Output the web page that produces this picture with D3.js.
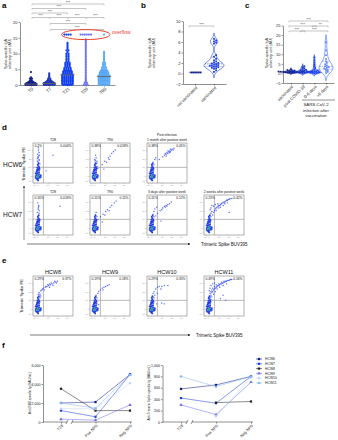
<!DOCTYPE html>
<html>
<head>
<meta charset="utf-8">
<title>Spike-specific IgA and memory B cells</title>
<script src="https://d3js.org/d3.v7.min.js"></script>
<style>
  body { margin: 0; background: #ffffff; }
  svg { font-family: "Liberation Sans", Arial, sans-serif; }
</style>
</head>
<body>
<div id="chart"></div>
<script>
// ---------- panel a : IgA over time, [value, number of dots at that value] ----------
var aCats = ["T0", "T7", "T21", "T28", "T90"];
var aColors = ["#13208a", "#1f35b5", "#0f3df2", "#6b72f2", "#58a8f4"];
var t0Counts = [[0,6],[0.2,6],[0.4,6],[0.6,5],[0.8,4],[1.0,3],[1.3,2],[1.6,1],[2.0,2],[2.4,1],[4.1,1]];
var t7Counts = [[0,6],[0.2,6],[0.4,6],[0.6,6],[0.8,5],[1.0,4],[1.3,3],[1.6,2],[2.0,2],[2.4,1],[2.8,1],[3.2,1],[3.7,1]];
var t21Counts = [[0,5],[0.3,6],[0.6,6],[1.0,6],[1.3,6],[1.6,6],[2.0,6],[2.3,6],[2.6,6],[3.0,6],[3.3,6],[3.6,5],[4.0,5],[4.3,5],[4.6,4],[5.0,4],[5.4,4],[5.8,3],[6.2,3],[6.6,3],[7.0,3],[7.5,2],[8.0,2],[8.5,2],[9.0,2],[9.5,2],[10.0,2],[10.5,1],[11.0,2],[11.5,1],[12.0,1],[12.5,1],[13.0,1],[13.4,1],[16,4]];
var t28Counts = [[0,3],[0.4,2],[0.8,2],[1.2,1],[1.6,1],[2,1],[2.5,1],[3,1],[3.5,1],[4,1],[4.5,1],[5,1],[5.5,1],[6,1],[6.5,1],[7,1],[7.5,1],[8,1],[8.5,1],[9,1],[9.5,1],[10,1],[10.5,1],[11,1],[11.5,1],[12,1],[12.5,1],[13,1],[13.5,1],[14,1],[14.5,1],[16,6]];
var t90Counts = [[0,5],[0.3,6],[0.6,6],[1.0,6],[1.3,6],[1.6,6],[2.0,6],[2.3,6],[2.6,6],[3.0,6],[3.3,5],[3.6,5],[4.0,5],[4.3,4],[4.6,4],[5.0,3],[5.5,3],[6.0,2],[6.5,2],[7.0,2],[7.5,1],[8.0,1],[8.5,1],[9.0,1],[9.5,1],[10.0,1],[10.5,1],[16,1]];
var aMedians = [0.3, 0.5, 3.2, null, 2.7];
var aTicks = [0, 5, 10, 15, 20];
var aBrackets = [["T0","T90",0],["T0","T28",1],["T0","T21",2],["T0","T7",3],["T7","T21",3],["T21","T28",3],["T28","T90",3],["T7","T28",4],["T7","T90",5]];

// ---------- panel b ----------
var bCats = ["not vaccinated", "vaccinated"];
var notVaccinated = [0.2, 0.2, 0.2, 0.2, 0.2, 0.2];
var vaccinated = [0.3,0.6,0.9,1.0,1.1,1.2,1.3,1.4,1.5,1.5,1.6,1.7,1.8,1.9,2.0,2.1,2.3,2.5,2.8,3.2,3.5,5.7,5.9,6.1,6.3,6.6];
var bTicks = [-2, 0, 2, 4, 6, 8, 10];

// ---------- panel c ----------
var cCats = ["vaccinated", "post COVID-19", "0-6 days", ">6 days"];
var cColors = ["#0b1c8c", "#1636c8", "#1a40f0", "#2f5cff"];
var cVaccinated = [0.2,0.3,0.4,0.4,0.5,0.5,0.6,0.6,0.7,0.7,0.8,0.8,0.9,1.0,1.0,1.1,1.2,1.3,1.5,1.8,2.1];
var cPostCovid = [0.2,0.3,0.4,0.5,0.5,0.6,0.7,0.8,0.9,1.0,1.0,1.2,1.4,1.6,1.9,2.3,2.7,3.2,3.8];
var cEarly = [0.1,0.2,0.3,0.4,0.5,0.5,0.6,0.7,0.8,0.9,1.0,1.1,1.3,1.6,2.0,2.8,3.6,4.5,5.6,6.8,8.3];
var cLate = [0.2,0.8,1.3,1.8,2.2,2.6,3.0,3.3,3.7,4.2,4.8,5.5,6.3,7.5,9.5,12,16.2];
var cTicks = [-5, 0, 5, 10, 15, 20, 25];
var cBrackets = [["vaccinated",">6 days",0,"***"],["vaccinated","0-6 days",1,"***"],["0-6 days",">6 days",1,"**"],["vaccinated","post COVID-19",2,"***"],["post COVID-19",">6 days",2,"***"]];

// ---------- panels d / e : flow events [BUV395, PE] in decade units ----------
var coreEvents = [[0.2,-0.3],[0.3,-0.2],[0.4,-0.3],[0.5,-0.1],[0.1,0],[0.2,0.1],[0.3,0],[0.4,0.1],[0.5,0.2],[0.6,0],[0.3,0.3],[0.4,0.4],[0.2,0.3],[0.5,0.4],[0.1,-0.2],[0.6,-0.2],[0.3,-0.4],[0.4,-0.5],[0.2,0.5],[0.5,0.6],[0.3,0.6],[0.7,0.1],[0.7,-0.1],[0.1,0.3],[0.35,0.8],[0.45,0.75],[0.3,0.95],[0.5,1.0],[0.4,1.15],[0.35,1.3],[0.45,1.45],[0.25,0.7],[0.55,0.85]];
var coreCentre = [[0.3,0],[0.4,0],[0.35,0.1],[0.3,-0.1],[0.4,-0.15]];
var hcw6T28 = [[0.3,0.7],[0.4,0.9],[0.5,1.1],[0.35,1.3],[0.45,1.5],[0.3,1.7],[0.5,1.9],[0.4,2.1],[0.45,2.3],[0.35,2.5],[0.5,2.7],[0.4,2.9],[0.45,3.1],[0.4,3.3],[0.55,0.8],[0.25,1.0],[0.6,1.4],[0.3,2.0],[0.55,2.4],[0.4,1.6],[0.5,1.8],[0.35,2.2],[2.1,2.4],[1.3,0.6]];
var hcw6T90 = [[0.3,0.7],[0.5,0.8],[0.4,1.0],[0.6,1.1],[0.3,1.2],[0.5,1.4],[0.4,1.6],[0.6,1.7],[0.35,1.9],[0.5,2.1],[0.45,2.4],[0.7,0.9],[0.6,1.5],[0.4,1.8],[1.2,1.3],[1.5,1.7],[1.7,1.6],[1.9,2.1],[2.1,2.3],[2.3,2.6],[2.5,2.8],[2.7,3.0],[1.4,0.8],[2.0,1.9]];
var hcw6Post = [[0.3,0.7],[0.5,0.9],[0.4,1.1],[0.6,1.3],[0.5,1.6],[0.7,1.9],[0.8,2.1],[0.4,1.4],[1.8,2.4],[2.0,2.5],[2.1,2.7],[2.2,2.6],[2.3,2.8],[2.4,2.9],[2.5,2.8],[2.6,3.0],[2.7,3.1],[2.2,2.9],[2.4,2.7],[1.9,2.6],[2.8,3.0],[2.0,2.3],[1.6,2.2],[1.2,1.9],[2.9,3.2],[2.5,3.1]];
var hcw7T28 = [[0.3,0.7],[0.4,0.9],[0.5,1.1],[0.35,1.3],[0.45,1.5],[0.3,1.8],[0.5,2.0],[0.4,2.3],[0.45,2.6],[0.35,2.9],[0.5,1.7],[0.6,1.0],[0.4,2.15],[0.45,2.45],[2.9,2.5]];
var hcw7T90 = [[0.3,0.7],[0.5,0.9],[0.4,1.1],[0.6,1.3],[0.4,1.5],[0.5,1.8],[0.7,1.0],[1.0,1.3],[1.3,1.6],[1.6,1.9],[1.8,2.1],[2.1,2.4],[2.3,2.6],[2.6,2.9],[2.8,3.1],[1.5,1.5],[2.0,2.0],[1.2,0.7]];
var hcw7Day3 = [[0.3,0.7],[0.5,0.9],[0.4,1.1],[0.6,1.3],[0.5,1.6],[0.6,1.9],[0.7,2.2],[0.8,1.4],[1.0,1.7],[1.3,2.0],[1.6,2.3],[1.8,2.5],[2.0,2.6],[2.2,2.7],[2.4,2.8],[1.9,2.4],[2.1,2.5],[2.6,3.0],[1.5,2.1],[0.9,2.4],[1.4,0.8]];
var hcw7Week2 = [[0.3,0.7],[0.5,0.9],[0.4,1.1],[0.6,1.3],[0.5,1.5],[0.6,1.7],[0.7,1.9],[0.5,2.1],[0.6,2.3],[0.8,1.5],[0.9,1.8],[1.0,2.0],[1.1,2.2],[1.2,2.3],[1.3,2.4],[1.4,2.5],[1.5,2.6],[1.6,2.6],[1.7,2.7],[1.8,2.8],[1.9,2.9],[2.0,2.9],[2.1,3.0],[2.2,3.0],[2.3,3.1],[2.4,3.2],[2.5,3.2],[2.6,3.3],[2.7,3.3],[2.8,3.4],[1.5,2.3],[1.7,2.4],[2.0,2.6],[2.2,2.8],[2.5,2.9],[1.2,2.0],[0.9,2.5],[1.1,2.7],[2.7,1.8],[0.7,2.6],[1.4,2.8],[3.0,3.4]];
var hcw8 = [[0.3,0.7],[0.5,0.9],[0.4,1.1],[0.6,1.3],[0.5,1.5],[0.6,1.7],[0.5,1.9],[0.7,2.1],[0.4,1.7],[0.8,2.2],[0.9,2.3],[1.0,2.4],[1.2,2.5],[1.4,2.6],[1.6,2.7],[1.8,2.8],[2.0,2.9],[2.2,3.0],[2.4,3.1],[2.6,3.2],[1.5,2.8],[1.9,3.0],[2.3,3.2],[1.1,2.2],[0.7,1.5],[2.1,2.7],[1.7,2.5],[1.3,2.6],[1.7,2.9],[2.5,3.0]];
var hcw9 = [[0.3,0.7],[0.5,0.9],[0.4,1.1],[0.6,1.3],[0.5,1.6],[0.7,1.8],[0.8,2.0],[1.0,2.2],[1.2,2.4],[1.4,2.5],[1.6,2.6],[1.8,2.7],[2.0,2.8],[1.3,2.2],[0.6,0.6],[0.8,0.5]];
var hcw10 = [[0.3,0.7],[0.5,0.9],[0.4,1.1],[0.6,1.3],[0.4,1.5],[0.5,1.8],[0.6,2.0],[0.8,2.3],[1.0,2.5],[1.2,2.6],[1.5,2.6],[1.8,2.7],[2.2,2.7],[1.4,2.3],[0.7,1.6],[1.0,1.8],[1.5,0.7],[1.8,0.6],[0.9,0.6]];
var hcw11 = [[0.3,0.7],[0.5,0.8],[0.4,1.0],[0.6,1.1],[0.3,1.2],[0.5,1.3],[0.7,1.4],[0.4,1.5],[0.6,1.6],[0.5,1.8],[0.7,1.9],[0.6,2.0],[0.8,2.0],[0.7,2.2],[0.9,2.2],[1.0,2.3],[0.8,2.4],[1.1,2.4],[1.2,2.5],[1.0,2.6],[1.3,2.6],[1.4,2.7],[1.2,2.8],[1.5,2.7],[1.6,2.8],[1.7,2.9],[1.5,2.9],[1.8,2.9],[1.9,3.0],[2.0,3.0],[1.8,3.1],[2.1,3.1],[2.2,3.1],[2.3,3.2],[2.1,3.2],[2.4,3.2],[2.5,3.3],[2.6,3.3],[2.7,3.3],[2.8,3.4],[2.9,3.4],[3.0,3.4],[0.9,1.7],[1.1,2.0],[1.3,2.3],[1.6,2.5],[2.0,2.7],[2.4,2.9],[0.4,2.1],[0.5,2.4],[0.6,2.7],[0.8,2.9],[1.0,3.0],[2.0,1.6],[1.7,1.2],[2.3,1.0]];
var flowTickLabels = ["-10³", "0", "10³", "10⁴", "10⁵"];

// ---------- panel f ----------
var fCats = ["T28", "Pos NPS", "Neg NPS"];
var fSeries = ["HCW6", "HCW7", "HCW8", "HCW9", "HCW10", "HCW11"];
var fColors = ["#0b1a8f", "#1a3fe6", "#222222", "#6c6cf0", "#c5d2fa", "#86b9f2"];
var rbdValues = [[2000,2100,5000],[1200,550,5000],[3500,1200,1200],[300,200,1800],[1400,1400,4100],[2000,1450,4950]];
var spikeValues = [[580,650,800],[420,330,800],[null,340,360],[300,130,700],[null,100,780],[800,620,800]];

var svg = d3.select("#chart").append("svg").attr("width", 338).attr("height", 440);

function styleAxis(g, fs) {
  g.selectAll("path, line").attr("stroke", "#222").attr("stroke-width", 0.5);
  g.selectAll("text").attr("font-size", fs).attr("fill", "#222");
}
function rotateLabels(g, fs) {
  g.selectAll("text").attr("x", 0).attr("y", 0).attr("dy", "0.35em")
    .attr("transform", "translate(1,3) rotate(-45)").style("text-anchor", "end").attr("font-size", fs);
}
function yLabel(x, y, lines, fs) {
  lines.forEach(function(t, i) {
    svg.append("text").attr("transform", "translate(" + (x + i * fs * 1.15) + "," + y + ") rotate(-90)")
      .attr("text-anchor", "middle").attr("font-size", fs).attr("fill", "#222").text(t);
  });
}
function bracket(x1, x2, y, label) {
  svg.append("path").attr("d", "M" + x1 + "," + (y + 1.3) + "V" + y + "H" + x2 + "V" + (y + 1.3))
    .attr("fill", "none").attr("stroke", "#888").attr("stroke-width", 0.5);
  svg.append("text").attr("x", (x1 + x2) / 2).attr("y", y - 0.5).attr("text-anchor", "middle")
    .attr("font-size", 4).attr("fill", "#444").text(label);
}
function panelLetter(x, y, t) {
  svg.append("text").attr("x", x).attr("y", y).attr("font-size", 8).attr("font-weight", "bold").text(t);
}
// simple deterministic beeswarm
function swarm(values, ys, cx, r) {
  var placed = [];
  values.slice().sort(d3.ascending).forEach(function(v) {
    var y = ys(v);
    for (var k = 0; k < 60; k++) {
      var x = cx + (k % 2 ? 1 : -1) * Math.ceil(k / 2) * r * 1.05;
      var hit = placed.some(function(p) { return Math.hypot(p.x - x, p.y - y) < r * 1.9; });
      if (!hit) { placed.push({x: x, y: y}); break; }
    }
  });
  return placed;
}
function violin(values, ys, cx, bw, half, color, fill, fillOpacity) {
  var lo = d3.min(values) - 2.5 * bw, hi = d3.max(values) + 2.5 * bw;
  var grid = d3.range(0, 61).map(function(i) { return lo + (hi - lo) * i / 60; });
  var dens = grid.map(function(y) { return d3.sum(values, function(v) { return Math.exp(-0.5 * Math.pow((y - v) / bw, 2)); }); });
  var m = d3.max(dens);
  var area = d3.area().curve(d3.curveBasis)
    .x0(function(d, i) { return cx - half * dens[i] / m; })
    .x1(function(d, i) { return cx + half * dens[i] / m; })
    .y(function(d) { return ys(d); });
  svg.append("path").datum(grid).attr("d", area).attr("fill", fill).attr("fill-opacity", fillOpacity)
    .attr("stroke", color).attr("stroke-width", 0.6);
  var sorted = values.slice().sort(d3.ascending);
  [[0.25, "0.6,0.6"], [0.5, "1.5,0.8"], [0.75, "0.6,0.6"]].forEach(function(q) {
    var v = d3.quantile(sorted, q[0]);
    var w = half * d3.sum(values, function(x) { return Math.exp(-0.5 * Math.pow((v - x) / bw, 2)); }) / m;
    svg.append("line").attr("x1", cx - w).attr("x2", cx + w).attr("y1", ys(v)).attr("y2", ys(v))
      .attr("stroke", color).attr("stroke-width", 0.5).attr("stroke-dasharray", q[1]);
  });
}

// ================= panel a =================
panelLetter(2, 8, "a");
var ya = d3.scaleLinear().domain([0, 20]).range([85, 22]);
var xa = d3.scalePoint().domain(aCats).range([20, 115]).padding(0.6);
var gA = svg.append("g").attr("transform", "translate(20,0)").call(d3.axisLeft(ya).tickValues(aTicks).tickSize(1.5).tickPadding(1).tickSizeOuter(0));
styleAxis(gA, 4);
var gAx = svg.append("g").attr("transform", "translate(0,85)").call(d3.axisBottom(xa).tickSize(1.5).tickSizeOuter(0));
styleAxis(gAx, 4.5);
rotateLabels(gAx, 4.5);
yLabel(7, 54, ["Spike-specific IgA", "arbitrary unit (AU)"], 3.8);

[t0Counts, t7Counts, t21Counts, t28Counts, t90Counts].forEach(function(counts, gi) {
  var cx = xa(aCats[gi]);
  var pts = [];
  counts.forEach(function(c) {
    for (var i = 0; i < c[1]; i++) pts.push({x: cx + (i - (c[1] - 1) / 2) * 2.1, y: ya(c[0])});
  });
  svg.append("g").selectAll("circle").data(pts).enter().append("circle")
    .attr("cx", function(d) { return d.x; }).attr("cy", function(d) { return d.y; })
    .attr("r", 1.1).attr("fill", aColors[gi]);
  if (aMedians[gi] != null) {
    svg.append("line").attr("x1", cx - 7).attr("x2", cx + 7).attr("y1", ya(aMedians[gi])).attr("y2", ya(aMedians[gi]))
      .attr("stroke", "#666").attr("stroke-width", 0.9);
  }
});
var aLevels = [4, 8.5, 13, 17.5, 23.5, 29.5];
aBrackets.forEach(function(b) { bracket(xa(b[0]) + 1, xa(b[1]), aLevels[b[2]], "***"); });
svg.append("ellipse").attr("cx", (xa("T21") + xa("T90")) / 2).attr("cy", ya(16))
  .attr("rx", (xa("T90") - xa("T21")) / 2 + 6).attr("ry", 5)
  .attr("fill", "none").attr("stroke", "#e8442e").attr("stroke-width", 1);
svg.append("text").attr("x", 112).attr("y", 34).attr("font-size", 5).attr("fill", "#e8442e").text("overflow");

// ================= panel b =================
panelLetter(141, 8, "b");
var yb = d3.scaleLinear().domain([-2, 10]).range([84, 21]);
var xb = d3.scalePoint().domain(bCats).range([183, 226]).padding(0.63);
var gB = svg.append("g").attr("transform", "translate(183,0)").call(d3.axisLeft(yb).tickValues(bTicks).tickSize(1.5).tickPadding(1).tickSizeOuter(0));
styleAxis(gB, 4);
var gBx = svg.append("g").attr("transform", "translate(0,84)").call(d3.axisBottom(xb).tickSize(1.5).tickSizeOuter(0));
styleAxis(gBx, 4.2);
rotateLabels(gBx, 4.2);
yLabel(151, 53, ["Spike-specific IgA", "arbitrary unit (AU)"], 3.8);
swarm(notVaccinated, yb, xb("not vaccinated"), 0.9).forEach(function(p) {
  svg.append("rect").attr("x", p.x - 0.9).attr("y", p.y - 0.9).attr("width", 1.8).attr("height", 1.8).attr("fill", "#13208a");
});
svg.append("line").attr("x1", xb("not vaccinated") - 6).attr("x2", xb("not vaccinated") + 6)
  .attr("y1", yb(0.2)).attr("y2", yb(0.2)).attr("stroke", "#13208a").attr("stroke-width", 0.5).attr("stroke-dasharray", "1.5,0.8");
violin(vaccinated, yb, xb("vaccinated"), 0.45, 10, "#1a3ce0", "#ffffff", 1);
swarm(vaccinated, yb, xb("vaccinated"), 1.0).forEach(function(p) {
  svg.append("rect").attr("x", p.x - 0.9).attr("y", p.y - 0.9).attr("width", 1.8).attr("height", 1.8).attr("fill", "#1a3ce0");
});
bracket(xb("not vaccinated") - 6, xb("vaccinated"), 26, "***");

// ================= panel c =================
panelLetter(245, 8, "c");
var yc = d3.scaleLinear().domain([-5, 25]).range([83, 25.5]);
var xc = d3.scalePoint().domain(cCats).range([283, 334]).padding(0.68);
var gC = svg.append("g").attr("transform", "translate(283,0)").call(d3.axisLeft(yc).tickValues(cTicks).tickSize(1.5).tickPadding(1).tickSizeOuter(0));
styleAxis(gC, 4);
var gCx = svg.append("g").attr("transform", "translate(0,83)").call(d3.axisBottom(xc).tickSize(1.5).tickSizeOuter(0));
styleAxis(gCx, 4.2);
rotateLabels(gCx, 4.2);
yLabel(268, 53, ["Spike-specific IgA", "arbitrary unit (AU)"], 3.8);
var cSets = [[cVaccinated, 0.35, 7], [cPostCovid, 0.5, 6.5], [cEarly, 0.6, 6], [cLate, 1.6, 7]];
cSets.forEach(function(s, i) {
  var cx = xc(cCats[i]);
  violin(s[0], yc, cx, s[1], s[2], cColors[i], i < 3 ? cColors[i] : "#ffffff", i < 3 ? 0.45 : 1);
  swarm(s[0], yc, cx, 0.85).forEach(function(p) {
    svg.append("rect").attr("x", p.x - 0.8).attr("y", p.y - 0.8).attr("width", 1.6).attr("height", 1.6)
      .attr("fill", i < 3 ? cColors[i] : "#4a78ff");
  });
});
var cLevels = [21, 26, 31];
cBrackets.forEach(function(b) { bracket(xc(b[0]) - 2, xc(b[1]) + 2, cLevels[b[2]], b[3]); });
svg.append("line").attr("x1", 302).attr("x2", 335).attr("y1", 100).attr("y2", 100).attr("stroke", "#222").attr("stroke-width", 0.5);
["SARS-CoV-2", "infection after", "vaccination"].forEach(function(t, i) {
  svg.append("text").attr("x", 316).attr("y", 106 + i * 5.5).attr("text-anchor", "middle").attr("font-size", 4.3).attr("fill", "#222").text(t);
});

// ================= panels d / e : flow plots =================
var fx = d3.scaleLinear().domain([-0.2, 4.4]).range([0, 40]);
var fy = d3.scaleLinear().domain([-0.8, 3.8]).range([40, 0]);
var colX = [33, 90, 147, 204];

function flowPlot(x0, y0, events, pLeft, pRight, title, titleSize) {
  var g = svg.append("g").attr("transform", "translate(" + x0 + "," + y0 + ")");
  g.append("rect").attr("width", 40).attr("height", 40).attr("fill", "#fff").attr("stroke", "#666").attr("stroke-width", 0.5);
  // tiny axis ticks
  var ax = g.append("g").attr("transform", "translate(0,40)").call(d3.axisBottom(fx).tickValues([-0.1, 0.3, 1.5, 2.6, 3.7]).tickSize(1).tickPadding(0.5).tickFormat(function(d, i) { return flowTickLabels[i]; }));
  ax.select(".domain").remove();
  ax.selectAll("line").attr("stroke", "#999").attr("stroke-width", 0.4);
  ax.selectAll("text").attr("font-size", 2).attr("fill", "#888");
  var ay = g.append("g").call(d3.axisLeft(fy).tickValues([-0.5, 0, 1, 2, 3]).tickSize(1).tickPadding(0.5).tickFormat(function(d, i) { return flowTickLabels[i]; }));
  ay.select(".domain").remove();
  ay.selectAll("line").attr("stroke", "#999").attr("stroke-width", 0.4);
  ay.selectAll("text").attr("font-size", 2).attr("fill", "#888");
  // gates
  g.append("line").attr("x1", fx(1)).attr("x2", fx(1)).attr("y1", 0).attr("y2", 40).attr("stroke", "#999").attr("stroke-width", 0.7);
  g.append("line").attr("x1", 0).attr("x2", 40).attr("y1", fy(1)).attr("y2", fy(1)).attr("stroke", "#999").attr("stroke-width", 0.7);
  g.selectAll(".ev").data(events).enter().append("circle")
    .attr("cx", function(d) { return fx(d[0]); }).attr("cy", function(d) { return fy(d[1]); })
    .attr("r", 0.7).attr("fill", "#2a46ff").attr("fill-opacity", 0.85);
  g.selectAll(".core").data(coreEvents).enter().append("circle")
    .attr("cx", function(d) { return fx(d[0]); }).attr("cy", function(d) { return fy(d[1]); })
    .attr("r", 0.9).attr("fill", "#1d37e8");
  g.selectAll(".centre").data(coreCentre).enter().append("circle")
    .attr("cx", function(d) { return fx(d[0]); }).attr("cy", function(d) { return fy(d[1]); })
    .attr("r", 0.8).attr("fill", "#27a88c");
  g.append("text").attr("x", 1.5).attr("y", 4.2).attr("font-size", 3.3).attr("fill", "#111").text(pLeft);
  g.append("text").attr("x", 38.5).attr("y", 4.2).attr("font-size", 3.3).attr("text-anchor", "end").attr("fill", "#111").text(pRight);
  title.forEach(function(t, i) {
    g.append("text").attr("x", 20).attr("y", -2.5 - (title.length - 1 - i) * titleSize * 1.25).attr("text-anchor", "middle")
      .attr("font-size", titleSize).attr("fill", "#111").text(t);
  });
}

panelLetter(2, 130, "d");
flowPlot(colX[0], 143, hcw6T28, "0.2%", "0.004%", ["T28"], 3.6);
flowPlot(colX[1], 143, hcw6T90, "0.38%", "0.018%", ["T90"], 3.6);
flowPlot(colX[2], 143, hcw6Post, "0.38%", "0.41%", ["Post infection", "1 month after positive week"], 3.3);
flowPlot(colX[0], 195, hcw7T28, "0.16%", "0.016%", ["T28"], 3.6);
flowPlot(colX[1], 195, hcw7T90, "0.11%", "0.11%", ["T90"], 3.6);
flowPlot(colX[2], 195, hcw7Day3, "0.11%", "0.12%", ["3 days after positive week"], 3.3);
flowPlot(colX[3], 195, hcw7Week2, "0.23%", "0.42%", ["2 weeks after positive week"], 3.3);
svg.append("text").attr("x", 3).attr("y", 167).attr("font-size", 6.5).attr("fill", "#111").text("HCW6");
svg.append("text").attr("x", 3).attr("y", 217).attr("font-size", 6.5).attr("fill", "#111").text("HCW7");
yLabel(25, 164, ["Trimeric Spike PE"], 4.3);

var defs = svg.append("defs");
defs.append("marker").attr("id", "arrow").attr("viewBox", "0 0 6 6").attr("refX", 5).attr("refY", 3)
  .attr("markerWidth", 4).attr("markerHeight", 4).attr("orient", "auto")
  .append("path").attr("d", "M0,0L6,3L0,6Z").attr("fill", "#222");
svg.append("line").attr("x1", 24).attr("x2", 24).attr("y1", 240).attr("y2", 186).attr("stroke", "#222").attr("stroke-width", 0.5).attr("marker-end", "url(#arrow)");
svg.append("line").attr("x1", 27).attr("x2", 190).attr("y1", 244).attr("y2", 244).attr("stroke", "#222").attr("stroke-width", 0.6).attr("marker-end", "url(#arrow)");
svg.append("text").attr("x", 201).attr("y", 246).attr("font-size", 4.5).attr("fill", "#111").text("Trimeric Spike BUV395");

panelLetter(2, 263, "e");
flowPlot(colX[0], 276, hcw8, "0.29%", "0.37%", ["HCW8"], 5.5);
flowPlot(colX[1], 276, hcw9, "0.19%", "0.18%", ["HCW9"], 5.5);
flowPlot(colX[2], 276, hcw10, "0.29%", "0.33%", ["HCW10"], 5.5);
flowPlot(colX[3], 276, hcw11, "0.49%", "0.56%", ["HCW11"], 5.5);
yLabel(23, 296, ["Trimeric Spike PE"], 4.3);
svg.append("line").attr("x1", 30).attr("x2", 190).attr("y1", 335).attr("y2", 335).attr("stroke", "#222").attr("stroke-width", 0.6).attr("marker-end", "url(#arrow)");
svg.append("text").attr("x", 196).attr("y", 337).attr("font-size", 4.5).attr("fill", "#111").text("Trimeric Spike BUV395");

// ================= panel f =================
panelLetter(2, 348, "f");
var symbols = [d3.symbolSquare, d3.symbolSquare, d3.symbolSquare, d3.symbolTriangle, d3.symbolCircle, d3.symbolCircle];

function fChart(axisX, catRange, yDomain, yTicks, values, labelX, label) {
  var y = d3.scaleLinear().domain(yDomain).range([422, 365]);
  var x = d3.scalePoint().domain(fCats).range(catRange);
  var gy = svg.append("g").attr("transform", "translate(" + axisX + ",0)").call(d3.axisLeft(y).tickValues(yTicks).tickSize(1.5).tickPadding(1).tickSizeOuter(0));
  styleAxis(gy, 3.6);
  var gx = svg.append("g").attr("transform", "translate(0,422)").call(d3.axisBottom(x).tickSize(1.5));
  gx.select(".domain").remove();
  styleAxis(gx, 4);
  rotateLabels(gx, 4);
  var brk = catRange[0] + 6;
  svg.append("line").attr("x1", axisX).attr("x2", brk).attr("y1", 422).attr("y2", 422).attr("stroke", "#222").attr("stroke-width", 0.5);
  svg.append("line").attr("x1", brk + 5).attr("x2", catRange[1] + 2).attr("y1", 422).attr("y2", 422).attr("stroke", "#222").attr("stroke-width", 0.5);
  [brk, brk + 5].forEach(function(bx) {
    svg.append("line").attr("x1", bx - 1).attr("x2", bx + 1).attr("y1", 424).attr("y2", 420).attr("stroke", "#222").attr("stroke-width", 0.5);
  });
  yLabel(labelX, 393, [label], 3.1);
  var line = d3.line().defined(function(d) { return d != null; })
    .x(function(d, i) { return x(fCats[i]); }).y(function(d) { return y(d); });
  values.forEach(function(vals, s) {
    svg.append("path").datum(vals).attr("d", line).attr("fill", "none")
      .attr("stroke", fColors[s]).attr("stroke-opacity", 0.75).attr("stroke-width", 0.7);
    vals.forEach(function(v, i) {
      if (v == null) return;
      svg.append("path").attr("d", d3.symbol().type(symbols[s]).size(5)())
        .attr("transform", "translate(" + x(fCats[i]) + "," + y(v) + ")").attr("fill", fColors[s]);
    });
  });
}
fChart(43, [61, 130], [0, 6000], [0, 2000, 4000, 6000], rbdValues, 31, "Anti-RBD specific Ig (BAU/mL)");
fChart(162.5, [181, 251], [0, 1000], [0, 200, 400, 600, 800, 1000], spikeValues, 150, "Anti-Trimeric Spike specific Ig (BAU/mL)");

// legend
fSeries.forEach(function(name, i) {
  var ly = 359 + i * 4.8;
  svg.append("line").attr("x1", 256).attr("x2", 262).attr("y1", ly).attr("y2", ly).attr("stroke", fColors[i]).attr("stroke-width", 0.6);
  svg.append("path").attr("d", d3.symbol().type(symbols[i]).size(5)()).attr("transform", "translate(259," + ly + ")").attr("fill", fColors[i]);
  svg.append("text").attr("x", 265).attr("y", ly + 1.2).attr("font-size", 3.4).attr("fill", "#222").text(name);
});
</script>
</body>
</html>
